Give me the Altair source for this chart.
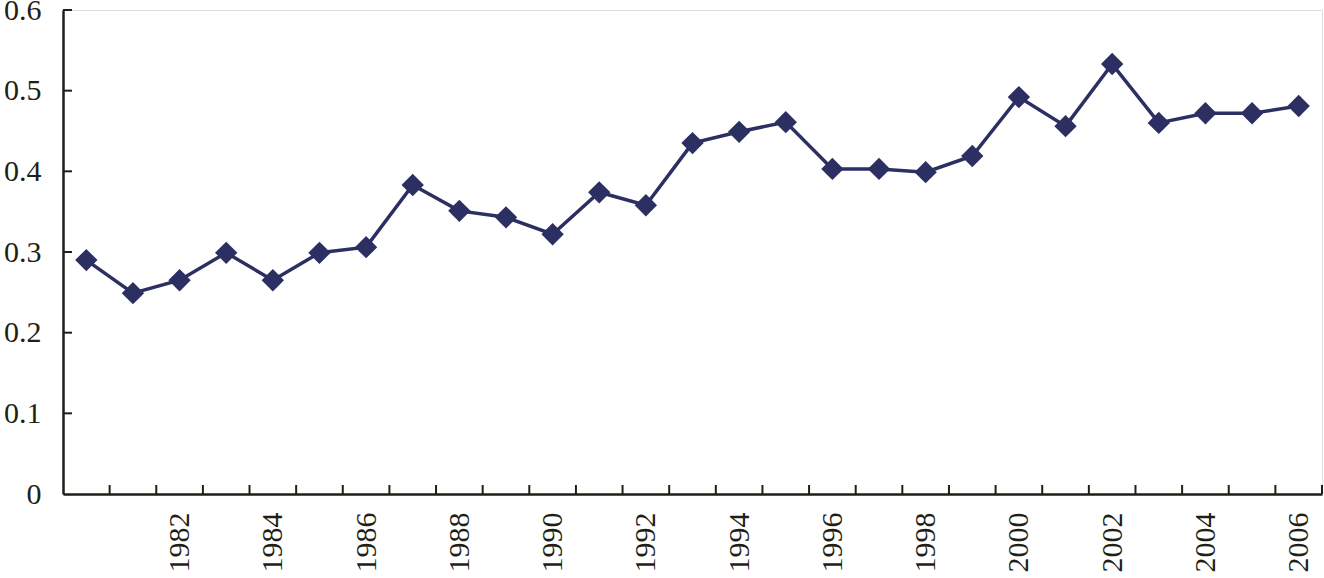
import altair as alt
import pandas as pd

years = list(range(1980, 2007))
values = [0.290, 0.249, 0.265, 0.299, 0.265, 0.299, 0.306, 0.383, 0.351, 0.343,
          0.322, 0.374, 0.358, 0.435, 0.449, 0.461, 0.403, 0.403, 0.399, 0.419,
          0.492, 0.456, 0.533, 0.460, 0.472, 0.472, 0.481]
label_years = list(range(1982, 2007, 2))
y_ticks = [0.1, 0.2, 0.3, 0.4, 0.5, 0.6]

W, H = 1259, 484
LINE = "#2c2f62"
AXIS = "#1f1f17"
FONT = "Liberation Serif"

df = pd.DataFrame({"year": years, "value": values})
xb = pd.DataFrame({"b": [y + 0.5 for y in years]})
yt = pd.DataFrame({"v": y_ticks})

xscale = alt.Scale(domain=[years[0] - 0.5, years[-1] + 0.5], nice=False, zero=False)
yscale = alt.Scale(domain=[0, 0.6], nice=False)

xaxis = alt.Axis(values=label_years, labelAngle=270, labelAlign="right", labelBaseline="middle",
                 tickSize=0, grid=False, domainColor=AXIS, domainWidth=2.5,
                 labelFont=FONT, labelFontSize=30, labelColor=AXIS, labelPadding=18,
                 title=None, format="d")
yaxis = alt.Axis(values=[0] + y_ticks, format=".1~f", tickSize=0, grid=False,
                 domainColor=AXIS, domainWidth=2.5, labelFont=FONT, labelFontSize=30,
                 labelColor=AXIS, labelPadding=22, title=None)

base = alt.Chart(df)
line = base.mark_line(color=LINE, strokeWidth=3.5).encode(
    x=alt.X("year:Q", scale=xscale, axis=xaxis),
    y=alt.Y("value:Q", scale=yscale, axis=yaxis),
)
pts = base.mark_point(shape="diamond", filled=True, size=500, color=LINE, opacity=1).encode(
    x=alt.X("year:Q", scale=xscale),
    y=alt.Y("value:Q", scale=yscale),
)
xt = alt.Chart(xb).mark_rule(color=AXIS, strokeWidth=2).encode(
    x=alt.X("b:Q", scale=xscale),
    y=alt.value(H - 9), y2=alt.value(H),
)
ytk = alt.Chart(yt).mark_rule(color=AXIS, strokeWidth=2).encode(
    y=alt.Y("v:Q", scale=yscale),
    x=alt.value(0), x2=alt.value(9),
)

chart = alt.layer(xt, ytk, line, pts).properties(
    width=W, height=H,
    autosize=alt.AutoSizeParams(type="none"),
    padding={"left": 63, "top": 10, "right": 2, "bottom": 84},
).configure_view(stroke=None).configure(background="white")

chart.save("out.html", embed_options={"renderer": "svg", "actions": False})
